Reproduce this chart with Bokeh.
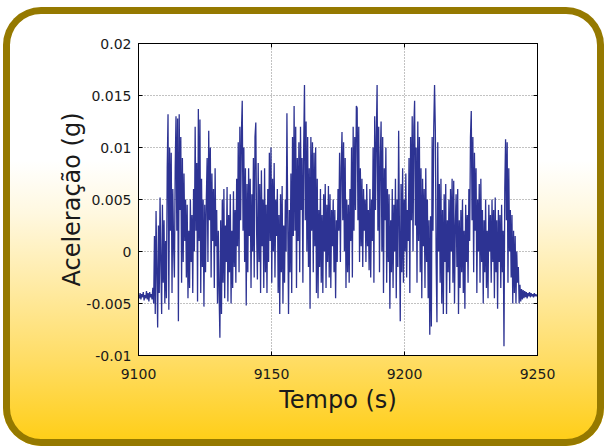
import numpy as np
from bokeh.plotting import figure
from bokeh.models import Range1d, LinearAxis, FixedTicker, CustomJSTickFormatter
from bokeh.embed import file_html
from bokeh.resources import INLINE

# ---------------- data ----------------
x_start, x_end = 9100, 9250
x_ticks = [9100, 9150, 9200, 9250]
y_ticks = [-0.01, -0.005, 0.0, 0.005, 0.01, 0.015, 0.02]
y_tick_labels = ["-0.01", "-0.005", "0", "0.005", "0.01", "0.015", "0.02"]
x_label = "Tempo (s)"
y_label = "Aceleração (g)"

accel_mg = [
    -4.2, -4.5, -4.0, -4.6, -4.1, -4.4, -3.9, -4.7, -4.2, -4.5, -3.8, -4.6, -4.0, -4.8, -3.9, -4.4, -4.1, -4.6,
    -3.5, -5.0, 1.5, -6.0, 3.9, -2.0, -7.3, 2.5, -4.0, 5.2, -1.0, -6.0, 4.5, -3.0, 3.0, -5.0, 1.0, -4.5,
    8.0, 13.2, -5.6, 10.0, 2.0, 9.5, -4.0, 6.0, 0.5, -2.5, 8.0,
    13.0, 2.0, 12.8, -6.7, 13.2, 4.0, 11.0, -3.0, 9.0, -1.0, 7.5, 1.0, 5.0, -2.5,
    4.5, -4.5, 2.0, -3.5, 5.0, -1.0, 3.5, -4.0, 6.0, 0.0, 12.0,
    2.0, 8.5, -4.8, 13.7, 1.0, 12.7, -4.0, 7.0, -1.5, 5.0, -5.3, 4.5, -2.0, 5.0,
    9.0, -1.0, 11.6, 3.0, 10.0, -2.5, 7.5, 1.0, 6.0, -3.5, 8.0, 0.5, 4.0, -5.0,
    2.0, -4.0, -8.3, 3.0, -6.0, 5.0, -3.0, 6.0, -4.5, 2.5, -1.0, 6.2, -4.8, 3.5, -2.0, 5.5, -5.0, 2.0, -3.5, 5.8, -1.5, 4.0,
    -3.0, 7.0, 0.5, 10.5, -2.0, 12.0, 3.0, 11.5, 14.5, 2.0, 10.0, -1.0,
    8.0, -5.2, 6.5, -2.0, 8.0, 1.5, 7.0, -3.5, 5.5, 0.0, 9.0, -2.5, 11.0,
    12.4, 2.0, -2.7, 8.5, -1.0, 6.5, -4.0, 7.8, 0.5, 5.0, -3.5, 8.0, -2.0, 4.5, -4.0, 6.0, -1.0,
    9.5, 1.0, 10.0, -3.0, 7.0, 0.0, 8.5, -2.5, 5.0, 1.5,
    6.0, -4.0, 3.5, -6.0, 5.5, -2.0, 6.3, -5.0, 2.5, -3.0, 5.0, 0.0, 13.3,
    3.0, -6.0, 4.0, -2.0, 7.5, -4.0, 11.0, 1.5, 14.0, 2.0, 12.0, -3.5, 9.0,
    1.0, 10.5, -2.0, 12.0, 4.0, 9.0, -3.0, 10.0, 16.0, 3.0, 12.5, 0.0, 11.0, -1.5,
    8.0, -5.5, 11.0, 2.0, 10.5, -2.0, 9.5, 0.5, 10.0, -4.0, 7.0,
    -4.5, 4.0, -1.5, 6.0, -3.0, 3.5, -4.0, 5.5, 0.0, 6.5, -3.5, 4.5, -1.0, 6.3, -2.5, 5.5, -3.5, 4.0, 0.5,
    5.0, -2.0, 4.0, -4.5, 3.0, -1.0,
    6.0, 2.0, 9.5, -1.0, 8.0, 11.5, 3.0, 10.5, 0.0, 9.0, -3.5, 5.0, -2.0, 4.5, -3.0,
    6.0, 1.0, 10.0, -2.5, 12.0, 2.0, 11.0, 4.0, 14.0, 13.8, 3.0, 12.0, -1.0, 8.0,
    0.5, 7.0, -1.5, 6.0, 2.0, 5.0, -1.0, 6.5, 0.5, 4.0, -1.8, 6.0,
    -2.5, 5.0, 1.0, 10.0, -3.0, 13.0, 4.0, 11.0, 16.0, 2.0, 12.0, -2.0, 9.0, 12.5, 0.0, 11.0, -4.0, 8.0, 3.0, 10.0, -3.0, 6.0,
    -1.0, 5.5, -5.5, 3.0, -2.0, 6.0, -3.5, 4.5, 0.0, 7.0, -4.5, 5.0, -1.5, 11.6, 2.0, -6.7, 6.5, -2.0,
    8.0, -3.0, 5.0, 0.0, 7.5, -2.5, 4.0,
    1.0, 9.0, -4.0, 11.0, 3.0, 13.0, 0.0, 12.0, 14.5, 2.5, 10.0, -3.0, 12.5,
    1.0, 11.0, -2.0, 8.0, -4.5, 7.0, 0.5, 6.0, -3.5, 8.0, -1.0, 5.0, -4.5, 3.0, -8.0, 3.4,
    -7.2, 11.0, 2.0, 12.0, 16.0, 11.5, -1.0, -6.8, 10.5, 0.0,
    6.5, -3.0, 7.0, -5.0, 4.0, -6.0, 5.5, -1.0, 6.5, -6.0, 3.0, -2.0, 5.0, -4.0, 6.0, 0.0,
    7.0, -3.0, 6.8, -5.0, 2.5, 5.5, -1.5, 6.0, -6.0, 3.0, -3.5, 4.0,
    -2.0, 5.0, -4.0, 2.0, -5.5, 4.5, -1.0, 3.5, -3.0,
    6.0, 1.0, 11.0, 13.5, 3.0, 11.0, -2.0, 9.5, 2.0,
    8.0, -4.0, 5.0, 0.0, 6.5, -3.0, 7.0, -1.0,
    4.0, -5.0, 3.0, -2.0, 5.0, -3.5, 2.0, -4.5, 4.5, 0.0, 3.5, -3.0, 5.0, -1.0, 4.0, -4.5, 5.2, -2.0, 3.0, -5.5, 4.0, -1.0, 3.5, -3.5, 4.5, -2.0,
    2.0, -9.1, 6.0, 10.8, 3.0, 10.5, -3.0, 8.0, 0.0,
    4.0, -2.5, 3.5, -5.0, 2.0, -4.0, 1.5, -5.0, 0.0, -3.0, -1.5,
    -5.0, -3.2, -4.8, -3.6, -4.6, -3.7, -4.5, -3.8, -4.4, -3.9, -4.5, -4.0, -4.3, -3.9, -4.4, -4.0, -4.3, -4.1, -4.4, -4.0, -4.3, -4.1, -4.3, -4.2,
]

time_s = np.linspace(x_start, x_end, len(accel_mg))
accel_g = np.array(accel_mg) / 1000.0

# ---------------- layout ----------------
OFF_X, OFF_Y = 3, 7            # where the rounded panel starts on the page
W, H = 601, 439                # panel size
FL, FR, FT, FB = 135, 534, 36, 348   # frame edges in canvas px
FONT = "DejaVu Sans"
TXT = "#1a1a1a"

p = figure(width=W, height=H, output_backend="svg", toolbar_location=None,
           x_range=Range1d(x_start, x_end), y_range=Range1d(y_ticks[0], y_ticks[-1]),
           min_border_left=FL, min_border_right=W - FR,
           min_border_top=FT, min_border_bottom=H - FB,
           background_fill_color="white", border_fill_color=None,
           outline_line_color="black")
p.margin = (OFF_Y, 0, 0, OFF_X)
p.styles = {
    "background": "linear-gradient(to bottom, #ffffff 0%, #ffffff 35%, #fff8e0 47%, "
                  "#ffeba6 63%, #ffdd66 80%, #ffcd12 100%)",
    "border-radius": "38px",
    "box-shadow": "inset 0 0 0 7px #957900",
}

# signal
p.line(time_s, accel_g, line_color="#2d3393", line_width=1.3)

# axes
xa = p.xaxis[0]
ya = p.yaxis[0]
xa.ticker = FixedTicker(ticks=x_ticks)
ya.ticker = FixedTicker(ticks=y_ticks)
ya.major_label_overrides = dict(zip(y_ticks, y_tick_labels))
xa.axis_label = x_label
ya.axis_label = y_label
for ax in (xa, ya):
    ax.axis_line_color = "black"
    ax.major_tick_line_color = "black"
    ax.major_tick_in = 4
    ax.major_tick_out = 0
    ax.minor_tick_line_color = None
    ax.major_label_text_font = FONT
    ax.major_label_text_font_size = "14px"
    ax.major_label_text_color = TXT
    ax.axis_label_text_font = FONT
    ax.axis_label_text_font_size = "24px"
    ax.axis_label_text_font_style = "normal"
    ax.axis_label_text_color = TXT
ya.major_label_standoff = 7
xa.major_label_standoff = 13
ya.axis_label_standoff = -3
xa.axis_label_standoff = 4

for loc, ticks in (("right", y_ticks), ("above", x_ticks)):
    ax = LinearAxis(ticker=FixedTicker(ticks=ticks),
                    formatter=CustomJSTickFormatter(code="return ''"),
                    major_tick_in=4, major_tick_out=0, minor_tick_line_color=None,
                    axis_line_color="black", major_label_text_font_size="1px")
    p.add_layout(ax, loc)

# grid
p.xgrid.ticker = FixedTicker(ticks=x_ticks)
p.ygrid.ticker = FixedTicker(ticks=y_ticks)
p.grid.grid_line_color = "#858585"
p.grid.grid_line_dash = "1 2"
p.grid.grid_line_width = 1

open("out.html", "w").write(file_html(p, INLINE))
